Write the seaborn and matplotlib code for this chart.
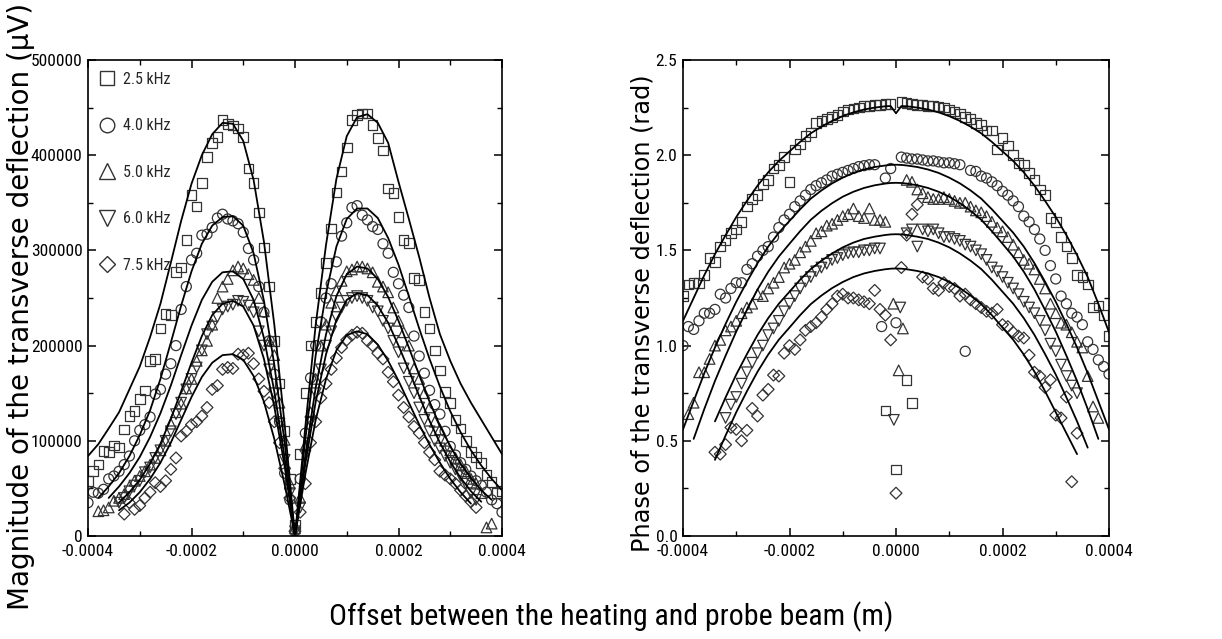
import numpy as np
import pandas as pd
import matplotlib
matplotlib.use("Agg")
import matplotlib.pyplot as plt
import seaborn as sns
from matplotlib import font_manager
from matplotlib.ticker import FixedLocator, MultipleLocator
from matplotlib.lines import Line2D

nan = np.nan

# ------------------------------------------------------------------ data
freq_labels = ["2.5 kHz", "4.0 kHz", "5.0 kHz", "6.0 kHz", "7.5 kHz"]

# measurement positions (micrometres)
x_pts_um = [-400, -390, -380, -370, -360, -350, -340, -330, -320, -310,
            -300, -290, -280, -270, -260, -250, -240, -230, -220, -210,
            -200, -190, -180, -170, -160, -150, -140, -130, -120, -110,
            -100, -90, -80, -70, -60, -50, -40, -30, -20, -10,
            0,
            10, 20, 30, 40, 50, 60, 70, 80, 90, 100,
            110, 120, 130, 140, 150, 160, 170, 180, 190, 200,
            210, 220, 230, 240, 250, 260, 270, 280, 290, 300,
            310, 320, 330, 340, 350, 360, 370, 380, 390, 400]

# magnitude data, thousands of microvolts
mag_25_k = [58, 68, 75, 89, 88, 95, 93, 112, 126, 131,
            144, 153, 184, 186, 218, 233, 232, 277, 282, 311,
            358, 346, 371, 398, 413, 419, 437, 433, 431, 428,
            419, 386, 371, 340, 303, 262, 205, 160, 110, 60,
            12,
            86, 150, 200, 225, 255, 287, 323, 361, 383, 408,
            437, 442, 444, 444, 432, 418, 405, 365, 360, 335,
            311, 308, 271, 269, 235, 218, 195, 174, 151, 140,
            122, 113, 100, 88, 83, 77, 64, 57, 45, 47]
mag_40_k = [35, 46, 45, 49, 60, 63, 68, 75, 84, 100,
            111, 117, 125, 149, 154, 170, 181, 200, 238, 262,
            290, 297, 316, 317, 324, 334, 338, 333, 331, 328,
            319, 302, 290, 262, 235, 205, 170, 120, 66, 38,
            5,
            60, 108, 166, 200, 225, 250, 265, 288, 315, 329,
            345, 347, 337, 332, 325, 322, 307, 297, 277, 265,
            253, 240, 210, 189, 171, 153, 138, 128, 110, 94,
            85, 77, 70, 63, 58, 53, 46, 38, 34, 25]
mag_50_k = [nan, nan, 26, 27, 30, 37, 40, 44, 52, 58,
            63, 68, 75, 82, 90, 100, 118, 130, 139, 155,
            165, 184, 195, 205, 222, 250, 262, 270, 279, 283,
            281, 275, 269, 250, 236, 205, 190, 140, 101, 55,
            8,
            40, 95, 130, 165, 200, 222, 245, 258, 268, 278,
            280, 283, 283, 281, 277, 267, 262, 256, 240, 226,
            214, 200, 176, 165, 150, 135, 120, 112, 100, 90,
            82, 75, 68, 60, 55, 45, 9, 13, nan, nan]
mag_60_k = [nan, nan, nan, nan, nan, nan, 35, 40, 47, 53,
            58, 67, 72, 82, 90, 100, 110, 128, 140, 154,
            165, 177, 195, 212, 220, 230, 238, 241, 243, 247,
            246, 242, 235, 215, 200, 175, 150, 118, 80, 45,
            5,
            30, 85, 120, 150, 175, 200, 215, 230, 240, 247,
            250, 252, 250, 247, 240, 236, 226, 218, 205, 193,
            176, 162, 150, 135, 122, 110, 100, 92, 84, 77,
            70, 63, 55, 45, 38, nan, nan, nan, nan, nan]
mag_75_k = [nan, nan, nan, nan, nan, nan, nan, 23, 35, 28,
            32, 40, 46, 56, 52, 58, 70, 82, 105, 110,
            117, 120, 126, 135, 154, 158, 175, 177, 176, 191,
            190, 192, 181, 165, 152, 140, 120, 98, 71, 40,
            5,
            25, 55, 98, 120, 145, 160, 175, 187, 198, 206,
            211, 214, 213, 205, 200, 192, 186, 172, 162, 148,
            135, 125, 115, 108, 98, 88, 80, 68, 64, 60,
            55, 48, 42, 36, 30, nan, nan, nan, nan, nan]

# fitted magnitude curves (thousands of microvolts) on a 20 um grid
x_fit_mag_um = [-400, -380, -360, -340, -320, -300, -280, -260, -240, -220,
                -200, -180, -160, -140, -120, -100, -80, -60, -40, -20,
                0,
                20, 40, 60, 80, 100, 120, 140, 160, 180, 200,
                220, 240, 260, 280, 300, 320, 340, 360, 380, 400]
fit_mag_25_k = [84, 96.5, 113, 130, 154, 178, 209, 244, 287, 331,
                370, 400, 422, 434, 433, 415, 374, 309, 222, 117,
                0,
                115, 222, 306, 375, 420, 440, 443, 434, 413, 372,
                333, 293, 250, 212, 184, 160, 140, 122, 104, 86]
fit_mag_40_k = [nan, 40, 52, 66, 84, 106, 132, 165, 203, 242,
                278, 307, 326, 335, 336, 326, 297, 247, 180, 98,
                0,
                102, 190, 255, 304, 333, 344, 344, 334, 313, 285,
                252, 218, 186, 157, 131, 109, 90, 74, 60, 48]
fit_mag_50_k = [nan, nan, 40, 52, 66, 83, 104, 129, 158, 190,
                221, 248, 267, 277, 278, 270, 248, 208, 152, 82,
                0,
                84, 156, 212, 252, 275, 283, 281, 270, 251, 226,
                198, 169, 141, 116, 94, 76, 61, 48, 38, nan]
fit_mag_60_k = [nan, nan, nan, 35, 46, 59, 76, 97, 123, 152,
                182, 210, 232, 244, 247, 241, 221, 186, 136, 73,
                0,
                76, 141, 191, 227, 248, 255, 253, 242, 224, 200,
                174, 147, 121, 98, 78, 61, 47, 36, nan, nan]
fit_mag_75_k = [nan, nan, nan, 27, 35, 46, 60, 77, 98, 122,
                146, 167, 182, 190, 191, 185, 168, 141, 102, 54,
                0,
                65, 122, 165, 195, 211, 215, 212, 201, 184, 163,
                140, 117, 96, 77, 60, 46, 34, nan, nan, nan]

# phase data (rad)
ph_25 = [1.26, 1.32, 1.33, 1.33, 1.37, 1.46, 1.44, 1.52, 1.555, 1.59,
         1.61, 1.65, 1.73, 1.77, 1.79, 1.85, 1.87, 1.93, 1.95, 1.99,
         1.86, 2.03, 2.06, 2.10, 2.12, 2.17, 2.18, 2.19, 2.20, 2.21,
         2.23, 2.24, 2.245, 2.25, 2.26, 2.26, 2.265, 2.265, 2.27, 2.27,
         nan,
         2.28, 2.275, 2.27, 2.265, 2.265, 2.26, 2.26, 2.255, 2.25, 2.24,
         2.23, 2.22, 2.20, 2.19, 2.17, 2.16, 2.13, 2.13, 2.03, 2.09,
         2.05, 2.00, 1.96, 1.95, 1.905, 1.87, 1.82, 1.79, 1.67, 1.65,
         1.57, 1.52, 1.46, 1.37, 1.36, 1.32, 1.20, 1.21, 1.16, 1.05]
ph_40 = [1.00, 1.10, 1.085, 1.13, 1.17, 1.17, 1.19, 1.27, 1.25, 1.30,
         1.33, 1.33, 1.40, 1.43, 1.47, 1.50, 1.52, 1.57, 1.62, 1.66,
         1.69, 1.73, 1.76, 1.79, 1.82, 1.84, 1.855, 1.87, 1.89, 1.90,
         1.91, 1.92, 1.93, 1.94, 1.945, 1.95, 1.95, nan, 1.88, 1.93,
         nan,
         1.99, 1.985, 1.98, 1.98, 1.975, 1.97, 1.97, 1.965, 1.96, 1.96,
         1.955, 1.95, nan, 1.92, 1.915, 1.89, 1.88, 1.86, 1.84, 1.81,
         1.79, 1.76, 1.73, 1.68, 1.65, 1.61, 1.56, 1.50, 1.42, 1.35,
         1.26, 1.22, 1.17, 1.15, 1.11, 1.02, 0.98, 0.925, 0.89, 0.85]
ph_50 = [nan, 0.64, 0.70, 0.86, 0.86, 0.93, 1.00, 1.03, 1.08, 1.10,
         1.13, 1.17, 1.20, 1.22, 1.27, 1.26, 1.30, 1.33, 1.36, 1.41,
         1.43, 1.45, 1.49, 1.52, 1.55, 1.59, 1.60, 1.63, 1.64, 1.66,
         1.68, 1.69, 1.72, 1.68, 1.67, 1.72, 1.66, 1.66, 1.65, nan,
         nan,
         nan, 1.87, 1.86, 1.82, 1.80, 1.78, 1.77, 1.77, 1.78, 1.77,
         1.76, 1.75, 1.75, 1.73, 1.71, 1.70, 1.68, 1.65, 1.62, 1.60,
         1.57, 1.53, 1.49, 1.45, 1.43, 1.40, 1.35, 1.30, 1.22, 1.17,
         1.12, 1.11, 1.07, 1.02, 0.99, 0.84, 0.68, 0.62, nan, nan]
ph_60 = [nan, nan, nan, nan, nan, nan, nan, nan, 0.62, 0.69,
         0.73, 0.80, 0.86, 0.91, 0.96, 1.00, 1.055, 1.09, 1.13, 1.18,
         1.22, 1.26, 1.30, 1.336, 1.36, 1.39, 1.41, 1.43, 1.45, 1.46,
         1.475, 1.485, 1.49, 1.49, 1.50, 1.50, 1.51, 1.51, nan, nan,
         nan,
         nan, 1.59, 1.61, 1.52, 1.61, 1.60, 1.61, 1.59, 1.57, 1.57,
         1.56, 1.55, 1.53, 1.52, 1.50, 1.48, 1.45, 1.41, 1.39, 1.36,
         1.33, 1.30, 1.27, 1.23, 1.20, 1.17, 1.13, 1.08, 1.01, 0.97,
         0.90, 0.84, 0.79, 0.75, nan, nan, nan, nan, nan, nan]
ph_75 = [nan, nan, nan, nan, nan, nan, 0.44, 0.43, 0.48, 0.57,
         0.56, 0.50, 0.555, 0.67, 0.63, 0.74, 0.77, 0.845, 0.84, 0.96,
         1.00, 0.98, 1.03, 1.08, 1.10, 1.12, 1.15, 1.19, 1.22, 1.26,
         1.27, 1.25, 1.25, 1.24, 1.23, 1.22, 1.29, 1.19, 1.16, 1.03,
         nan,
         1.41, 1.58, 1.69, 1.74, 1.36, 1.35, 1.30, 1.29, 1.33, 1.31,
         1.30, 1.26, 1.27, 1.24, 1.22, 1.20, 1.18, 1.17, 1.19, 1.11,
         1.10, 1.07, 1.05, 1.04, 0.95, 0.86, 0.84, 0.78, 0.82, 0.635,
         0.62, 0.73, nan, 0.54, nan, nan, nan, nan, nan, nan]

# scattered phase points close to zero offset (um, rad)
ph_extra_x = {"2.5 kHz": [-20, 0, 20, 30], "4.0 kHz": [-27, 0, 130],
              "5.0 kHz": [-5, 5, 13], "6.0 kHz": [-4, 8], "7.5 kHz": [0, 330]}
ph_extra_y = {"2.5 kHz": [0.66, 0.35, 0.82, 0.70], "4.0 kHz": [1.10, 1.12, 0.97],
              "5.0 kHz": [1.22, 0.87, 1.09], "6.0 kHz": [0.61, 1.20], "7.5 kHz": [0.225, 0.285]}

# fitted phase curves (rad)
x_fit_ph_um = [-400, -380, -360, -340, -320, -300, -280, -260, -240, -220,
               -200, -180, -160, -140, -120, -100, -80, -60, -40, -20,
               -10, 0, 10,
               20, 40, 60, 80, 100, 120, 140, 160, 180, 200,
               220, 240, 260, 280, 300, 320, 340, 360, 380, 400]
fit_ph_25 = [1.13, 1.25, 1.37, 1.48, 1.58, 1.675, 1.76, 1.84, 1.91, 1.97,
             2.02, 2.07, 2.115, 2.15, 2.18, 2.205, 2.225, 2.24, 2.25, 2.257,
             2.258, 2.22, 2.258,
             2.257, 2.25, 2.24, 2.225, 2.205, 2.18, 2.15, 2.115, 2.07, 2.02,
             1.97, 1.91, 1.84, 1.76, 1.675, 1.58, 1.475, 1.36, 1.22, 1.07]
fit_ph_40 = [0.56, 0.708, 0.855, 0.99, 1.114, 1.23, 1.335, 1.433, 1.52, 1.593,
             1.655, 1.716, 1.772, 1.815, 1.852, 1.882, 1.907, 1.925, 1.938, 1.946,
             1.949, 1.95, 1.949,
             1.946, 1.938, 1.925, 1.907, 1.882, 1.852, 1.815, 1.772, 1.716, 1.655,
             1.593, 1.52, 1.433, 1.335, 1.23, 1.114, 0.99, 0.855, 0.708, 0.56]
fit_ph_50 = [nan, 0.51, 0.667, 0.814, 0.947, 1.074, 1.187, 1.295, 1.388, 1.468,
             1.535, 1.601, 1.661, 1.708, 1.748, 1.782, 1.808, 1.828, 1.842, 1.851,
             1.854, 1.855, 1.854,
             1.851, 1.842, 1.828, 1.808, 1.782, 1.748, 1.708, 1.661, 1.601, 1.535,
             1.468, 1.388, 1.295, 1.187, 1.074, 0.947, 0.814, 0.667, 0.51, nan]
fit_ph_60 = [nan, nan, nan, 0.602, 0.728, 0.848, 0.955, 1.056, 1.144, 1.22,
             1.283, 1.346, 1.402, 1.446, 1.484, 1.516, 1.541, 1.56, 1.572, 1.581,
             1.584, 1.585, 1.584,
             1.581, 1.572, 1.56, 1.541, 1.516, 1.484, 1.446, 1.402, 1.346, 1.283,
             1.22, 1.144, 1.056, 0.955, 0.848, 0.728, 0.602, 0.464, nan, nan]
fit_ph_75 = [nan, nan, nan, 0.40, 0.528, 0.65, 0.76, 0.863, 0.953, 1.031,
             1.095, 1.16, 1.218, 1.263, 1.302, 1.334, 1.36, 1.379, 1.392, 1.401,
             1.404, 1.405, 1.404,
             1.401, 1.392, 1.379, 1.36, 1.334, 1.302, 1.263, 1.218, 1.16, 1.095,
             1.031, 0.953, 0.863, 0.76, 0.65, 0.54, 0.43, nan, nan, nan]

x_tick_vals = [-0.0004, -0.0002, 0.0, 0.0002, 0.0004]
x_tick_labels = ["-0.0004", "-0.0002", "0.0000", "0.0002", "0.0004"]
mag_tick_vals = [0, 100000, 200000, 300000, 400000, 500000]
mag_tick_labels = ["0", "100000", "200000", "300000", "400000", "500000"]
ph_tick_vals = [0.0, 0.5, 1.0, 1.5, 2.0, 2.5]
ph_tick_labels = ["0.0", "0.5", "1.0", "1.5", "2.0", "2.5"]

mag_series = [mag_25_k, mag_40_k, mag_50_k, mag_60_k, mag_75_k]
mag_fits = [fit_mag_25_k, fit_mag_40_k, fit_mag_50_k, fit_mag_60_k, fit_mag_75_k]
ph_series = [ph_25, ph_40, ph_50, ph_60, ph_75]
ph_fits = [fit_ph_25, fit_ph_40, fit_ph_50, fit_ph_60, fit_ph_75]

for arr in mag_series + ph_series:
    assert len(arr) == len(x_pts_um), len(arr)
for arr in mag_fits:
    assert len(arr) == len(x_fit_mag_um), len(arr)
for arr in ph_fits:
    assert len(arr) == len(x_fit_ph_um), len(arr)

# ------------------------------------------------------------------ style
sns.set_theme(style="ticks")
avail = {f.name for f in font_manager.fontManager.ttflist}


def pick(cands):
    for c in cands:
        if c in avail:
            return c
    return "DejaVu Sans"


NARROW = pick(["Liberation Sans Narrow", "Roboto Condensed", "Noto Sans Condensed",
               "Open Sans Condensed", "Liberation Sans"])
IS_NARROW = NARROW != "Liberation Sans" and NARROW != "DejaVu Sans"
WIDE = pick(["DejaVu Sans", "Liberation Sans"])
plt.rcParams["font.family"] = [NARROW, "DejaVu Sans"]
plt.rcParams["axes.unicode_minus"] = False

TICK_FS = 12.5 if IS_NARROW else 10.5
LEG_FS = 11.5 if IS_NARROW else 9.5
XLAB_FS = 21.5 if IS_NARROW else 18.5

EDGE = "#333333"
markers = ["s", "o", "^", "v", "D"]
msizes = [48, 52, 58, 58, 36]
leg_ms = [10, 10.5, 11, 11, 8]

fig = plt.figure(figsize=(12.22, 6.39), dpi=100)
axL = fig.add_axes([88 / 1222, 1 - 536 / 639, 414 / 1222, 476 / 639])
axR = fig.add_axes([683 / 1222, 1 - 536 / 639, 426 / 1222, 476 / 639])


def draw_points(ax, xs_um, ys, scale, marker, size):
    df = pd.DataFrame({"x": np.asarray(xs_um, float) * 1e-6,
                       "y": np.asarray(ys, float) * scale}).dropna()
    sns.scatterplot(data=df, x="x", y="y", ax=ax, marker=marker, s=size,
                    facecolor="none", edgecolor=EDGE, linewidth=0.9,
                    legend=False, zorder=2)


def draw_fit(ax, xs_um, ys, scale):
    df = pd.DataFrame({"x": np.asarray(xs_um, float) * 1e-6,
                       "y": np.asarray(ys, float) * scale}).dropna()
    sns.lineplot(data=df, x="x", y="y", ax=ax, color="black", linewidth=1.3,
                 estimator=None, sort=False, legend=False, zorder=3)


for i, lab in enumerate(freq_labels):
    draw_points(axL, x_pts_um, mag_series[i], 1000.0, markers[i], msizes[i])
    draw_fit(axL, x_fit_mag_um, mag_fits[i], 1000.0)
    draw_points(axR, x_pts_um, ph_series[i], 1.0, markers[i], msizes[i])
    draw_points(axR, ph_extra_x[lab], ph_extra_y[lab], 1.0, markers[i], msizes[i])
    draw_fit(axR, x_fit_ph_um, ph_fits[i], 1.0)


def style_axis(ax, yvals, ylabels, yminor, ylim):
    ax.set_xlim(-0.0004, 0.0004)
    ax.set_ylim(*ylim)
    ax.xaxis.set_major_locator(FixedLocator(x_tick_vals))
    ax.set_xticklabels(x_tick_labels)
    ax.xaxis.set_minor_locator(MultipleLocator(0.0001))
    ax.yaxis.set_major_locator(FixedLocator(yvals))
    ax.set_yticklabels(ylabels)
    ax.yaxis.set_minor_locator(MultipleLocator(yminor))
    ax.set_xlabel("")
    ax.set_ylabel("")
    for s in ax.spines.values():
        s.set_visible(True)
        s.set_color("black")
        s.set_linewidth(1.2)
    ax.tick_params(which="both", direction="in", top=True, right=True,
                   color="black", labelcolor="black")
    ax.tick_params(which="major", length=6, width=1.1, labelsize=TICK_FS)
    ax.tick_params(which="minor", length=3.5, width=1.0)
    ax.tick_params(axis="x", which="major", pad=6)
    ax.tick_params(axis="y", which="major", pad=4)
    ax.set_facecolor("white")


style_axis(axL, mag_tick_vals, mag_tick_labels, 50000, (0, 500000))
style_axis(axR, ph_tick_vals, ph_tick_labels, 0.25, (0, 2.5))

handles = [Line2D([], [], marker=m, linestyle="none", markerfacecolor="none",
                  markeredgecolor=EDGE, markeredgewidth=1.0, markersize=ms)
           for m, ms in zip(markers, leg_ms)]
axL.legend(handles, freq_labels, loc="upper left", bbox_to_anchor=(0, 1),
           borderaxespad=0, borderpad=0.72, frameon=False, fontsize=LEG_FS,
           handlelength=0.9, handletextpad=0.6, labelspacing=1.98)

fig.text(0.017, 0.521, "Magnitude of the transverse deflection (μV)", rotation=90,
         ha="center", va="center", fontsize=20, family=[WIDE, "DejaVu Sans"], color="black")
fig.text(0.526, 0.51, "Phase of the transverse deflection (rad)", rotation=90,
         ha="center", va="center", fontsize=17.3, family=[WIDE, "DejaVu Sans"], color="black")
fig.text(0.5, 0.035, "Offset between the heating and probe beam (m)",
         ha="center", va="center", fontsize=XLAB_FS, color="black")

fig.savefig("out.png", dpi=100, facecolor="white")
